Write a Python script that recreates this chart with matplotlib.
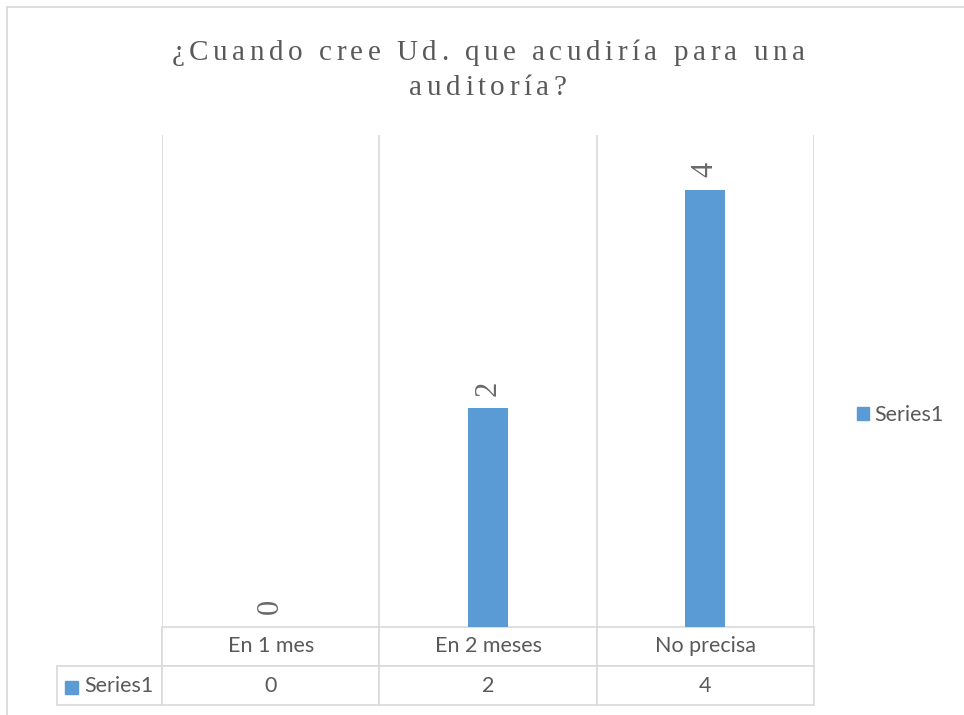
import matplotlib
matplotlib.use("Agg")
import matplotlib.pyplot as plt
from matplotlib.patches import Rectangle
from matplotlib.font_manager import FontProperties

# ============================================================
# Data
# ============================================================
categories = ["En 1 mes", "En 2 meses", "No precisa"]
values = [0, 2, 4]
series_name = "Series1"
title_lines = ["¿Cuando cree Ud. que acudiría para una", "auditoría?"]

bar_color = "#5B9BD5"
text_color = "#595959"
line_color = "#D9D9D9"

# ============================================================
# Figure
# ============================================================
W, H = 964, 715
fig = plt.figure(figsize=(W / 100, H / 100), dpi=100)

# chart frame (runs off the right / bottom edge)
fig.add_artist(Rectangle((7 / W, -0.05), 1.0, 1 - 7 / H + 0.05,
                         transform=fig.transFigure, fill=False,
                         edgecolor=line_color, lw=1.3))

ax = fig.add_axes([162 / W, 1 - 627 / H, (814 - 162) / W, (627 - 135) / H])
x = list(range(len(categories)))
ax.bar(x, values, width=0.185, color=bar_color, zorder=2)
ax.set_xlim(-0.5, len(categories) - 0.5)
ax.set_ylim(0, 4.5)

for g in [-0.5, 0.5, 1.5, 2.5]:
    ax.axvline(g, color=line_color, lw=1.2, zorder=1)

for xi, v in zip(x, values):
    ax.annotate(str(v), (xi, v), xytext=(0, 9), textcoords="offset points",
                ha="center", va="bottom", rotation=90,
                fontsize=22, family="Liberation Serif", color="#6A6A6A")

for s in ax.spines.values():
    s.set_visible(False)
ax.set_xticks([])
ax.set_yticks([])

# ============================================================
# Data table
# ============================================================
row_w = (162 - 57) / (814 - 162)
h = (706 - 628) / (627 - 135)
table = ax.table(
    cellText=[[""] + categories, [series_name] + [str(v) for v in values]],
    colWidths=[row_w, 1 / 3, 1 / 3, 1 / 3],
    cellLoc="center",
    bbox=[-row_w, -h, 1 + row_w, h],
)
table.auto_set_font_size(False)
for (r, c), cell in table.get_celld().items():
    cell.set_edgecolor(line_color)
    cell.set_linewidth(1.2)
    cell.get_text().set_fontsize(15.5)
    cell.get_text().set_family("Lato")
    cell.get_text().set_color(text_color)
    if r == 0 and c == 0:
        cell.visible_edges = "R"
    if r == 1 and c == 0:
        cell.get_text().set_ha("right")
        cell._loc = "right"
        cell.PAD = 0.08

# legend key in the table row label
fig.add_artist(Rectangle((65 / W, 1 - 694 / H), 13 / W, 13 / H,
                         transform=fig.transFigure, color=bar_color))

# ============================================================
# Legend
# ============================================================
fig.legend(
    [Rectangle((0, 0), 1, 1, color=bar_color)],
    [series_name],
    loc="center left",
    bbox_to_anchor=(846 / W, 1 - 415 / H),
    frameon=False,
    handlelength=0.55,
    handleheight=0.55,
    handletextpad=0.25,
    borderpad=0,
    prop={"family": "Lato", "size": 15.5},
    labelcolor=text_color,
)

# ============================================================
# Title (letter-spaced, drawn one glyph at a time)
# ============================================================
title_font = FontProperties(family="Liberation Serif", size=21)
spacing = 4.5  # px between glyphs
renderer = fig.canvas.get_renderer()


def text_width(s):
    w, _, _ = renderer.get_text_width_height_descent(s + "|", title_font, ismath=False)
    w0, _, _ = renderer.get_text_width_height_descent("|", title_font, ismath=False)
    return w - w0


cx = (162 + 814) / 2
for line, base_y in zip(title_lines, [60, 95]):
    total = text_width(line) + spacing * (len(line) - 1)
    x0 = cx - total / 2
    for i, ch in enumerate(line):
        xi = x0 + text_width(line[:i]) + spacing * i
        fig.text(xi / W, 1 - base_y / H, ch, ha="left", va="baseline",
                 fontproperties=title_font, color=text_color)

fig.savefig("out.png", dpi=100)
